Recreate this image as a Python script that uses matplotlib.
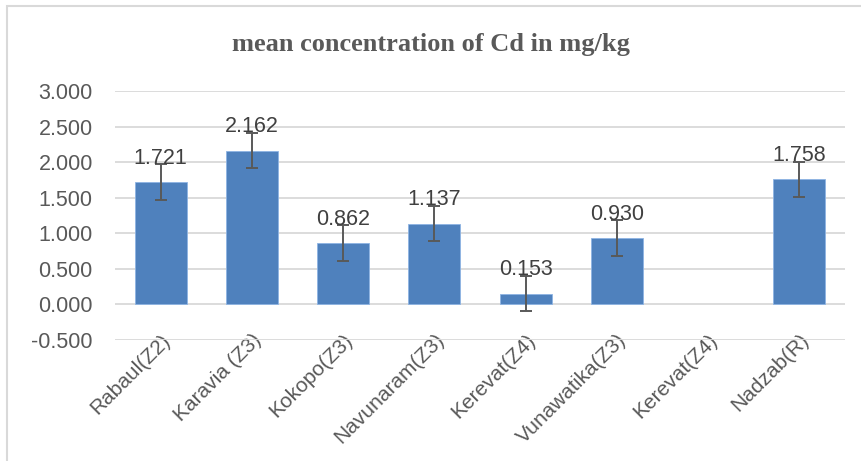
import matplotlib.pyplot as plt
from matplotlib.patches import Rectangle

sites = ["Rabaul(Z2)", "Karavia (Z3)", "Kokopo(Z3)", "Navunaram(Z3)",
         "Kerevat(Z4)", "Vunawatika(Z3)", "Kerevat(Z4)", "Nadzab(R)"]
cd_mean = [1.721, 2.162, 0.862, 1.137, 0.153, 0.930, None, 1.758]
cd_err = [0.25, 0.25, 0.25, 0.25, 0.25, 0.25, None, 0.25]
y_ticks = [-0.5, 0.0, 0.5, 1.0, 1.5, 2.0, 2.5, 3.0]

BAR = "#4F81BD"
TXT = "#595959"

plt.rcParams["font.family"] = ["Liberation Sans", "DejaVu Sans"]

fig = plt.figure(figsize=(8.62, 4.61), dpi=100)
ax = fig.add_axes([115 / 862, 0.2625, 730 / 862, 0.5401])

# chart-area border (only top and left edges are visible in the crop)
fig.patches.append(Rectangle((7 / 862, -0.05), 1.0, 1.05 - 6 / 461,
                             transform=fig.transFigure, fill=False,
                             edgecolor="#D9D9D9", linewidth=1.5))

x = list(range(len(sites)))
for i, (v, e) in enumerate(zip(cd_mean, cd_err)):
    if v is None:
        continue
    ax.bar(i, v, width=0.57, color=BAR, edgecolor="#8EB4E3", linewidth=0.6, zorder=2)
    ax.errorbar(i, v, yerr=e, fmt="none", ecolor="#595959", elinewidth=1.4,
                capsize=4.3, capthick=1.4, zorder=3)
    ax.text(i, v + e + 0.005, f"{v:.3f}", ha="center", va="baseline",
            fontsize=15.5, color="#404040", zorder=4)

ax.set_xlim(-0.5, len(sites) - 0.5)
ax.set_ylim(-0.5, 3.0)
ax.set_yticks(y_ticks)
ax.set_yticklabels([f"{t:.3f}" for t in y_ticks], fontsize=15.5, color=TXT)
ax.set_xticks(x)
ax.set_xticklabels(sites, rotation=45, ha="right", rotation_mode="anchor",
                   fontsize=15, color=TXT)
ax.tick_params(axis="y", length=0, pad=16)
ax.tick_params(axis="x", length=0, pad=-7)
ax.grid(axis="y", color="#D9D9D9", linewidth=1.3, zorder=0)
ax.set_axisbelow(True)
for s in ax.spines.values():
    s.set_visible(False)

fig.text(0.5, 1 - 45 / 461, "mean concentration of Cd in mg/kg", ha="center",
         va="center", fontsize=19, fontweight="bold", color=TXT,
         family=["Liberation Serif", "DejaVu Serif"])

fig.savefig("out.png", dpi=100)
